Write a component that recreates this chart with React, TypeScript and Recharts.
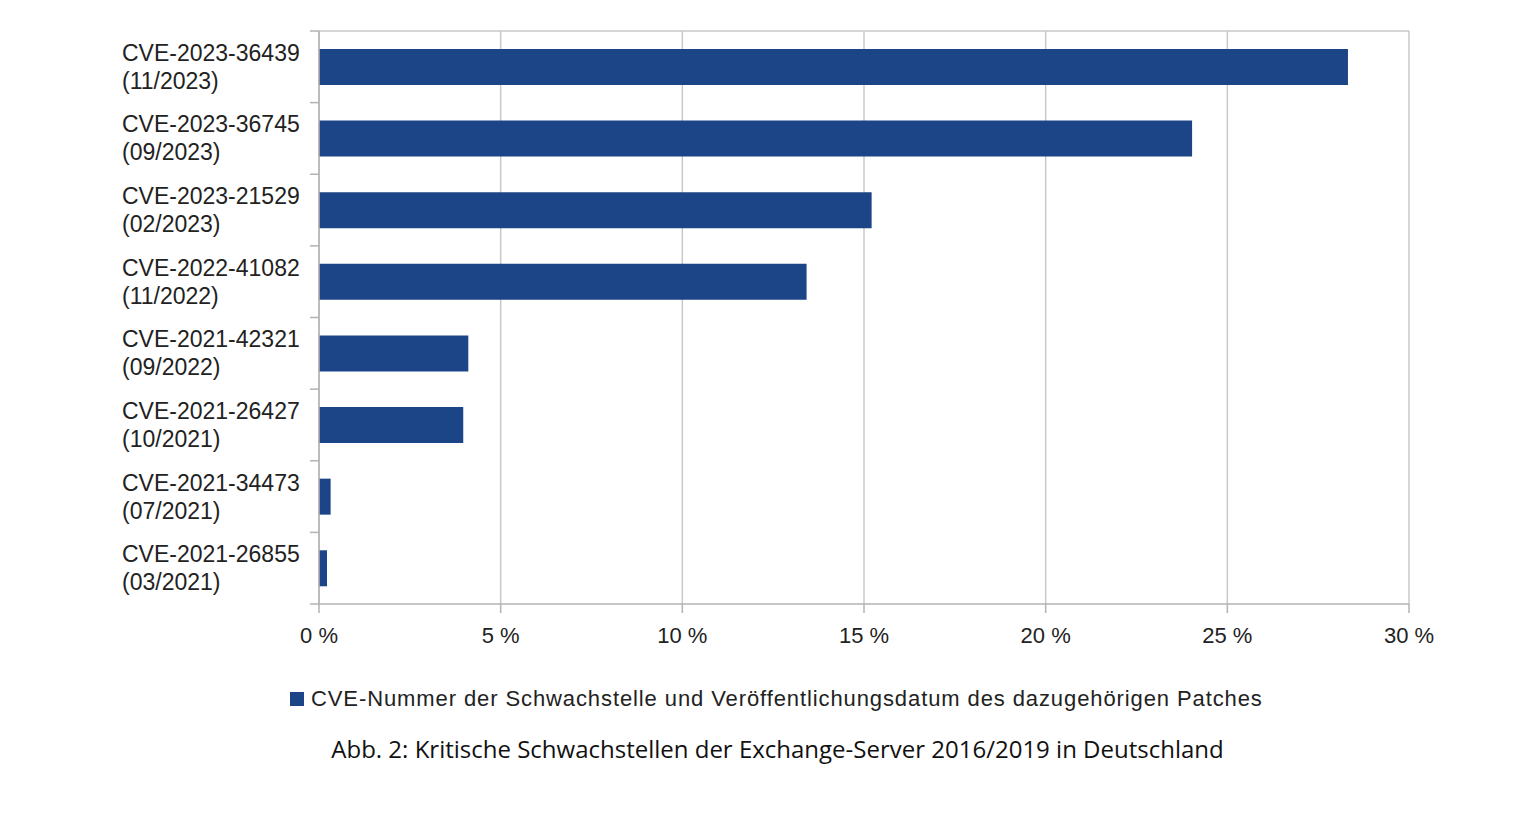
import { Bar, BarChart, CartesianGrid, XAxis, YAxis } from 'recharts'

const cveIds = [
  'CVE-2023-36439',
  'CVE-2023-36745',
  'CVE-2023-21529',
  'CVE-2022-41082',
  'CVE-2021-42321',
  'CVE-2021-26427',
  'CVE-2021-34473',
  'CVE-2021-26855',
]
const patchDates = ['11/2023', '09/2023', '02/2023', '11/2022', '09/2022', '10/2021', '07/2021', '03/2021']
const shares = [28.32, 24.03, 15.21, 13.42, 4.11, 3.97, 0.32, 0.22]
const xTicks = [0, 5, 10, 15, 20, 25, 30]

const legendLabel = 'CVE-Nummer der Schwachstelle und Veröffentlichungsdatum des dazugehörigen Patches'
const caption = 'Abb. 2: Kritische Schwachstellen der Exchange-Server 2016/2019 in Deutschland'

const data = cveIds.map((id, i) => ({ name: id, date: patchDates[i], value: shares[i] }))

const CHART_W = 1538
const CHART_H = 660
const MARGIN = { top: 31, right: 129, bottom: 0, left: 0 }
const Y_AXIS_W = 319
const X_AXIS_H = 56
const BAND = (CHART_H - MARGIN.top - MARGIN.bottom - X_AXIS_H) / data.length

const barColor = '#1c4587'
const axisColor = '#b3b3b3'
const gridColor = '#c8c8c8'
const textColor = '#222'
const sans = '"Liberation Sans", Arial, sans-serif'

// category labels are two lines, plus the little boundary ticks left of the axis
function CategoryTick({ y, index, payload }: { y?: number; index?: number; payload?: { value: string } }) {
  const row = data.find((d) => d.name === payload?.value)
  const cy = y ?? 0
  const axisX = MARGIN.left + Y_AXIS_W
  return (
    <g>
      <line x1={axisX - 9} x2={axisX} y1={cy - BAND / 2} y2={cy - BAND / 2} stroke={axisColor} strokeWidth={1.5} />
      {index === data.length - 1 && (
        <line x1={axisX - 9} x2={axisX} y1={cy + BAND / 2} y2={cy + BAND / 2} stroke={axisColor} strokeWidth={1.5} />
      )}
      <text x={122} y={cy - 6} fill={textColor} fontSize={23} fontFamily={sans}>
        {payload?.value}
      </text>
      <text x={122} y={cy + 22} fill={textColor} fontSize={23} fontFamily={sans}>
        ({row?.date})
      </text>
    </g>
  )
}

export default function App() {
  return (
    <div style={{ position: 'absolute', left: 0, top: 0, width: 1538, height: 820, background: '#fff' }}>
      <BarChart width={CHART_W} height={CHART_H} data={data} layout="vertical" margin={MARGIN} barCategoryGap="25%">
        <CartesianGrid
          stroke={gridColor}
          strokeWidth={1.5}
          horizontalCoordinatesGenerator={({ offset }: any) => [offset.top]}
        />
        <XAxis
          type="number"
          domain={[0, 30]}
          ticks={xTicks}
          height={X_AXIS_H}
          tickFormatter={(v: number) => `${v} %`}
          tick={{ fill: textColor, fontSize: 22, fontFamily: sans }}
          tickSize={9}
          tickMargin={14}
          axisLine={{ stroke: axisColor, strokeWidth: 1.5 }}
          tickLine={{ stroke: axisColor, strokeWidth: 1.5 }}
        />
        <YAxis
          type="category"
          dataKey="name"
          width={Y_AXIS_W}
          tick={<CategoryTick />}
          tickLine={false}
          axisLine={{ stroke: axisColor, strokeWidth: 1.5 }}
          interval={0}
        />
        <Bar dataKey="value" fill={barColor} isAnimationActive={false} />
      </BarChart>
      <div
        style={{
          position: 'absolute',
          left: 290,
          top: 686,
          display: 'flex',
          alignItems: 'center',
          fontFamily: sans,
          fontSize: 22,
          letterSpacing: 0.9,
          color: textColor,
          whiteSpace: 'nowrap',
        }}
      >
        <span style={{ display: 'inline-block', width: 14, height: 14, background: barColor, marginRight: 7 }} />
        {legendLabel}
      </div>
      <div
        style={{
          position: 'absolute',
          left: 0,
          width: 1555,
          top: 732,
          textAlign: 'center',
          fontFamily: '"Open Sans", sans-serif',
          fontSize: 24,
          color: '#111',
          whiteSpace: 'nowrap',
        }}
      >
        {caption}
      </div>
    </div>
  )
}
